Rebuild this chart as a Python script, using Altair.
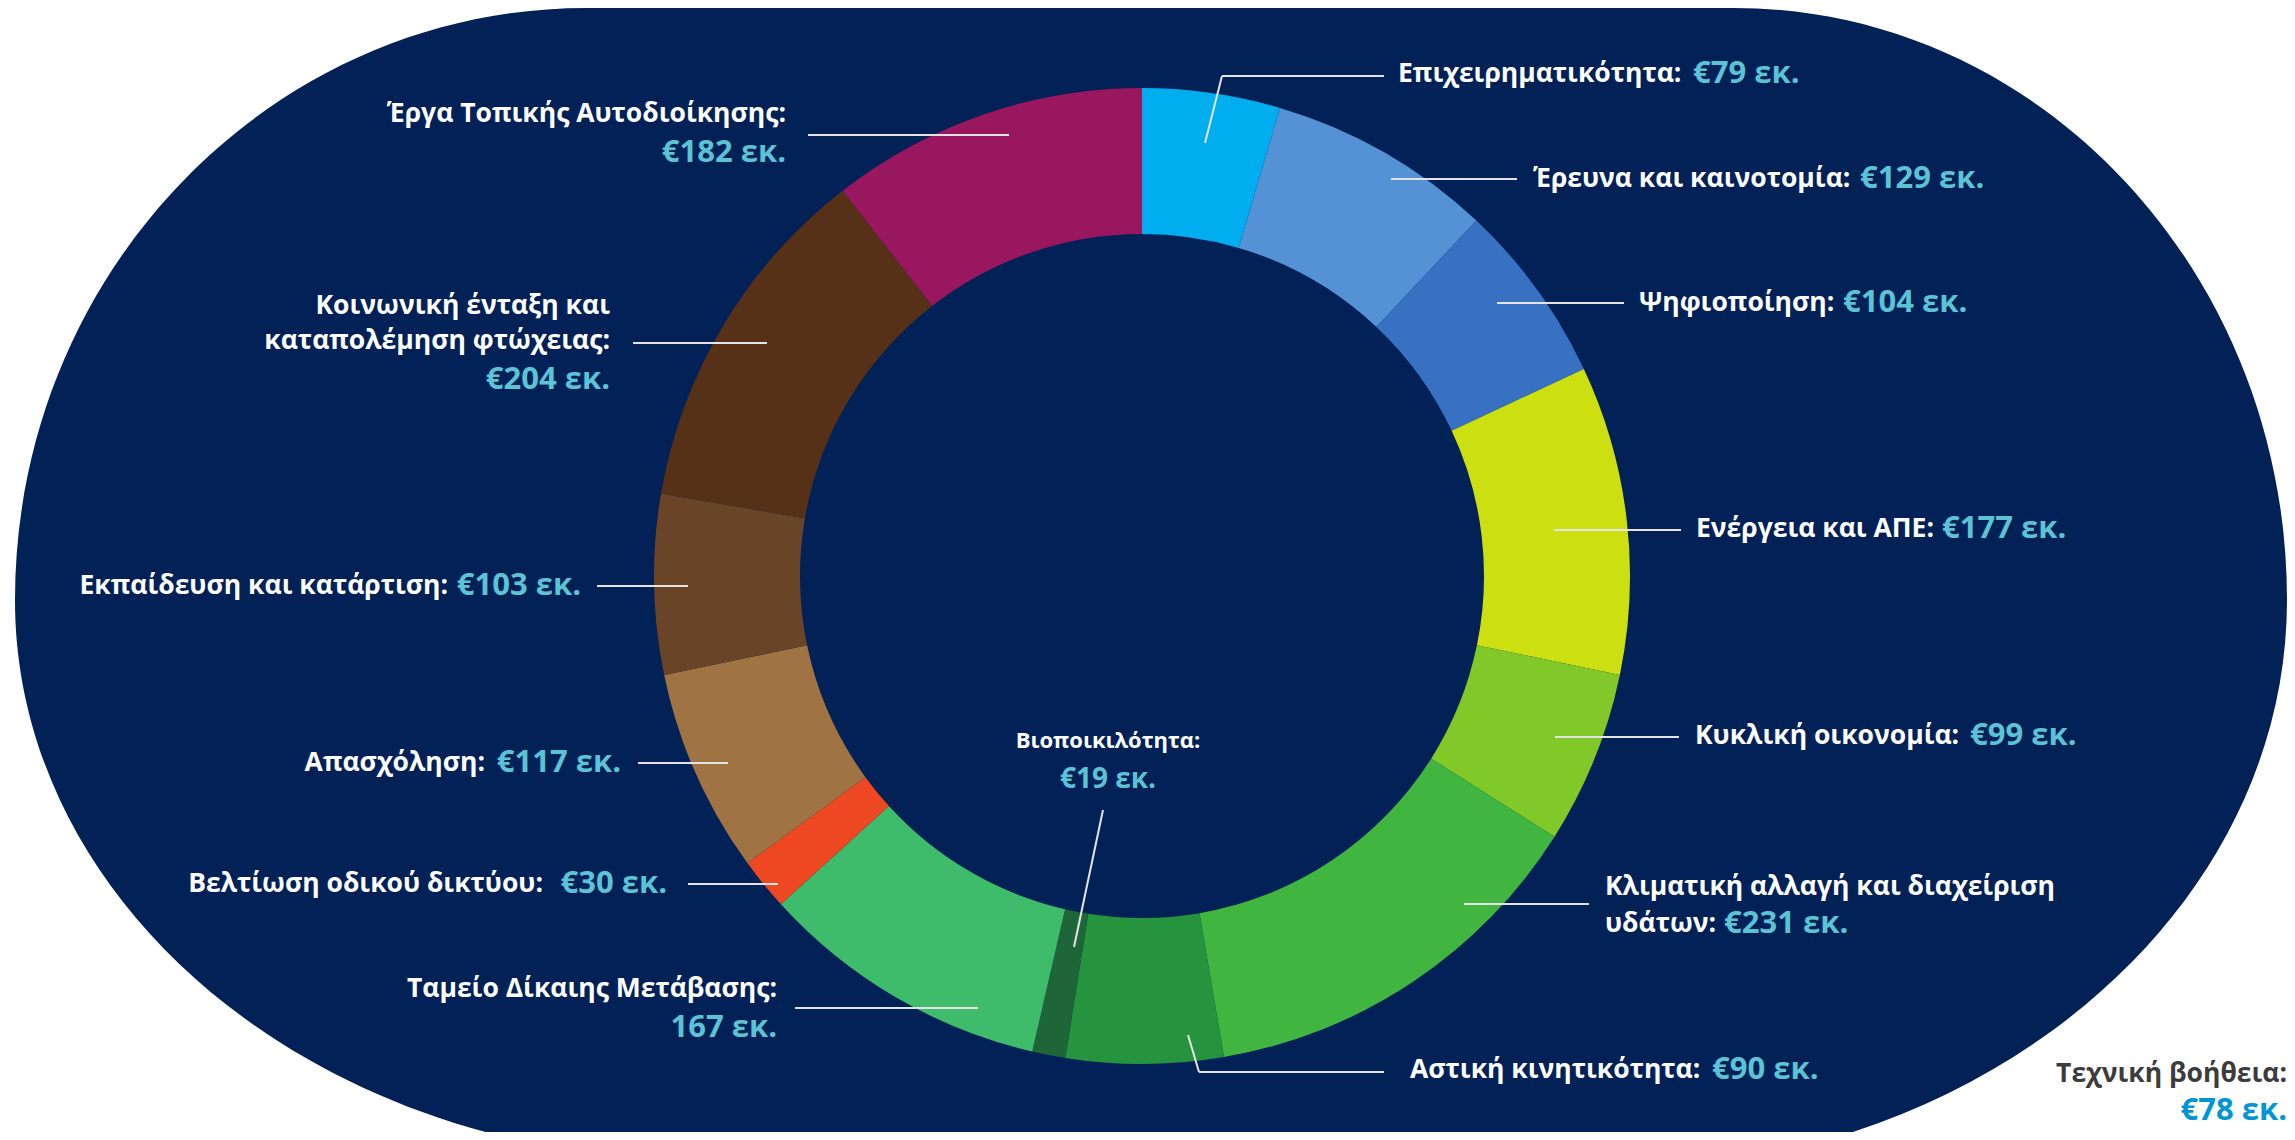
import altair as alt
import pandas as pd

# ---------------- data ----------------
names = [
    "Επιχειρηματικότητα", "Έρευνα και καινοτομία", "Ψηφιοποίηση", "Ενέργεια και ΑΠΕ",
    "Κυκλική οικονομία", "Κλιματική αλλαγή και διαχείριση υδάτων", "Αστική κινητικότητα",
    "Βιοποικιλότητα", "Ταμείο Δίκαιης Μετάβασης", "Βελτίωση οδικού δικτύου", "Απασχόληση",
    "Εκπαίδευση και κατάρτιση", "Κοινωνική ένταξη και καταπολέμηση φτώχειας",
    "Έργα Τοπικής Αυτοδιοίκησης",
]
values = [79, 129, 104, 177, 99, 231, 90, 19, 167, 30, 117, 103, 204, 182]
value_labels = ["€79 εκ.", "€129 εκ.", "€104 εκ.", "€177 εκ.", "€99 εκ.", "€231 εκ.", "€90 εκ.",
                "€19 εκ.", "167 εκ.", "€30 εκ.", "€117 εκ.", "€103 εκ.", "€204 εκ.", "€182 εκ."]
tech_label = "Τεχνική βοήθεια:"
tech_value = "€78 εκ."

# ---------------- styles ----------------
seg_colors = ["#00AEEF", "#5591D5", "#3870C2", "#CCE011", "#80C928", "#40B53F", "#26943E",
              "#1E6637", "#3FBB6C", "#EE4823", "#A07343", "#6A4427", "#573117", "#98175E"]
NAVY = "#012157"
WHITE = "#FFFFFF"
CYAN = "#5CC3D7"
LINE = "#E4E4E4"
FONT = "Open Sans"
FS = 26.5      # white label text
FS_V = 31      # value text
FS_SMALL = 22  # biodiversity label
FS_SMALL_V = 28

W, H = 2295, 1140
M = 8
xs = alt.Scale(domain=[0, W], range=[-M, W - M], nice=False, zero=False)
ys = alt.Scale(domain=[0, H], range=[-M, H - M], nice=False, zero=False)

# donut geometry (image pixels)
CX, CY, R_OUT, R_IN = 1142, 576, 488, 342

# background rounded shape (custom symbol path, units of 1000 px, origin at image 0,0)
BG_PATH = ("M 0.587 0.008 L 1.734 0.008 A 0.553 0.592 0 0 1 2.287 0.600 "
           "A 0.687 0.572 0 0 1 1.600 1.172 L 0.700 1.160 "
           "A 0.685 0.560 0 0 1 0.015 0.600 A 0.572 0.592 0 0 1 0.587 0.008 Z")

# ---------------- layout of annotations (image pixels) ----------------
# (text, kind, x, y, align, size)
texts = [
    ("Επιχειρηματικότητα:", "w", 1398, 74, "left", FS),
    (value_labels[0], "c", 1693, 74, "left", FS_V),
    ("Έρευνα και καινοτομία:", "w", 1533, 179, "left", FS),
    (value_labels[1], "c", 1860, 179, "left", FS_V),
    ("Ψηφιοποίηση:", "w", 1639, 303, "left", FS),
    (value_labels[2], "c", 1843, 303, "left", FS_V),
    ("Ενέργεια και ΑΠΕ:", "w", 1696, 529, "left", FS),
    (value_labels[3], "c", 1942, 529, "left", FS_V),
    ("Κυκλική οικονομία:", "w", 1695, 736, "left", FS),
    (value_labels[4], "c", 1970, 736, "left", FS_V),
    ("Κλιματική αλλαγή και διαχείριση", "w", 1605, 887, "left", FS),
    ("υδάτων:", "w", 1605, 924, "left", FS),
    (value_labels[5], "c", 1724, 924, "left", FS_V),
    ("Αστική κινητικότητα:", "w", 1410, 1070, "left", FS),
    (value_labels[6], "c", 1712, 1070, "left", FS_V),
    ("Βιοποικιλότητα:", "w", 1108, 741, "center", FS_SMALL),
    (value_labels[7], "c", 1108, 780, "center", FS_SMALL_V),
    ("Ταμείο Δίκαιης Μετάβασης:", "w", 777, 989, "right", FS),
    (value_labels[8], "c", 777, 1028, "right", FS_V),
    ("Βελτίωση οδικού δικτύου:", "w", 543, 884, "right", FS),
    (value_labels[9], "c", 667, 884, "right", FS_V),
    ("Απασχόληση:", "w", 485, 763, "right", FS),
    (value_labels[10], "c", 621, 763, "right", FS_V),
    ("Εκπαίδευση και κατάρτιση:", "w", 448, 586, "right", FS),
    (value_labels[11], "c", 581, 586, "right", FS_V),
    ("Κοινωνική ένταξη και", "w", 610, 306, "right", FS),
    ("καταπολέμηση φτώχειας:", "w", 610, 341, "right", FS),
    (value_labels[12], "c", 610, 380, "right", FS_V),
    ("Έργα Τοπικής Αυτοδιοίκησης:", "w", 786, 114, "right", FS),
    (value_labels[13], "c", 786, 153, "right", FS_V),
    (tech_label, "g", 2287, 1074, "right", FS),
    (tech_value, "b", 2287, 1111, "right", FS_V),
]
kind_color = {"w": WHITE, "c": CYAN, "g": "#3C3C3C", "b": "#0095D5"}

# leader line segments (x, y, x2, y2)
leaders = [
    (1205, 143, 1222, 76), (1222, 76, 1384, 76),
    (1391, 179, 1517, 179),
    (1497, 303, 1624, 303),
    (1554, 530, 1681, 530),
    (1555, 737, 1679, 737),
    (1464, 904, 1589, 904),
    (1188, 1035, 1199, 1072), (1199, 1072, 1384, 1072),
    (1103, 810, 1074, 947),
    (795, 1008, 978, 1008),
    (688, 884, 778, 884),
    (638, 763, 728, 763),
    (597, 586, 688, 586),
    (633, 343, 767, 343),
    (808, 135, 1009, 135),
]

# ---------------- chart ----------------
bg = alt.Chart(pd.DataFrame({"k": [0]})).mark_point(
    shape=BG_PATH, size=4000000, filled=True, fill=NAVY, opacity=1, strokeWidth=0
).encode(x=alt.value(-M), y=alt.value(-M))

donut_df = pd.DataFrame({"name": names, "value": values, "idx": list(range(len(names)))})
donut = alt.Chart(donut_df).mark_arc(innerRadius=R_IN, outerRadius=R_OUT).encode(
    theta=alt.Theta("value:Q", stack=True),
    color=alt.Color("name:N", scale=alt.Scale(domain=names, range=seg_colors), legend=None),
    order=alt.Order("idx:Q"),
    x=alt.value(CX - M),
    y=alt.value(CY - M),
)

lead_df = pd.DataFrame(leaders, columns=["x", "y", "x2", "y2"])
lead = alt.Chart(lead_df).mark_rule(color=LINE, strokeWidth=2).encode(
    x=alt.X("x:Q", scale=xs, axis=None),
    y=alt.Y("y:Q", scale=ys, axis=None),
    x2="x2:Q",
    y2="y2:Q",
)

tdf = pd.DataFrame(texts, columns=["text", "kind", "x", "y", "align", "size"])
text_layers = []
for (kind, align, size), g in tdf.groupby(["kind", "align", "size"]):
    text_layers.append(
        alt.Chart(g).mark_text(
            font=FONT, fontWeight="bold", fontSize=float(size), align=align, baseline="middle",
            color=kind_color[kind],
        ).encode(
            x=alt.X("x:Q", scale=xs, axis=None),
            y=alt.Y("y:Q", scale=ys, axis=None),
            text="text:N",
        )
    )

chart = alt.layer(bg, donut, lead, *text_layers).properties(
    width=W - 2 * M, height=H - 2 * M, padding=0, autosize="none", background="white"
).configure_view(strokeWidth=0)

chart.save("out.html", embed_options={"renderer": "svg", "actions": False})
